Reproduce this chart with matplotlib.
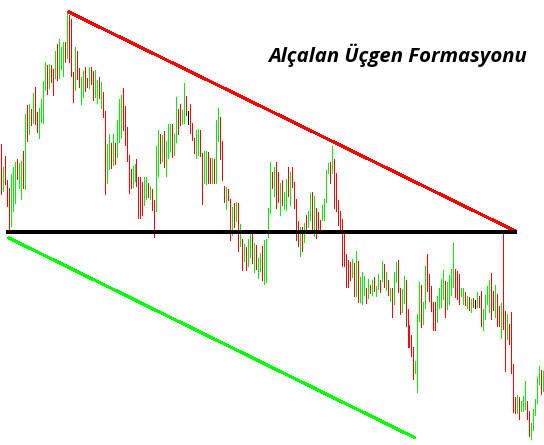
import matplotlib
matplotlib.use("Agg")
from matplotlib import pyplot as plt

# bar data (price points), one entry per bar
highs = [301, 278, 289, 265, 257, 271, 278, 283, 286, 282, 284, 294, 331, 340, 341, 336, 352, 358, 333, 337,
         346, 364, 383, 380, 381, 380, 376, 394, 401, 406, 398, 403, 403, 433, 430, 426, 373, 398, 394, 377,
         368, 374, 378, 367, 378, 378, 374, 375, 365, 368, 363, 353, 334, 301, 311, 302, 311, 302, 325, 346,
         350, 357, 339, 318, 290, 276, 279, 281, 286, 268, 268, 263, 268, 268, 262, 259, 256, 245, 299,
         315, 311, 310, 314, 304, 321, 321, 321, 311, 348, 336, 341, 335, 362, 349, 334, 341, 322, 307, 315,
         316, 315, 292, 294, 294, 293, 287, 287, 286, 325, 337, 328, 304, 259, 258, 256, 246, 238, 242,
         243, 242, 221, 206, 201, 198, 206, 213, 213, 202, 200, 187, 192, 199, 205, 206, 237, 283, 273, 278,
         283, 273, 262, 265, 253, 266, 278, 273, 278, 263, 246, 224, 218, 218, 222, 230, 234, 252, 253,
         249, 237, 233, 225, 240, 246, 275, 282, 283, 299, 286, 272, 245, 234, 226, 215, 191, 185, 183, 186,
         182, 194, 184, 168, 173, 169, 157, 166, 160, 165, 168, 159, 171, 165, 184, 181, 173, 165, 157,
         157, 173, 183, 185, 157, 156, 169, 165, 136, 120, 110, 98, 84, 131, 163, 160, 143, 179, 191, 171,
         159, 143, 143, 149, 157, 166, 175, 164, 163, 170, 176, 202, 176, 174, 171, 157, 157, 153, 149, 148,
         146, 147, 145, 153, 149, 154, 136, 150, 159, 165, 172, 154, 160, 151, 139, 142, 215, 134, 131, 121,
         133, 81, 48, 50, 48, 44, 49, 64, 44, 34, 22, 36, 46, 68, 79, 75, 74]
lows = [251, 254, 261, 239, 215, 219, 234, 242, 266, 257, 246, 257, 256, 304, 311, 320, 322, 321, 313, 307,
        323, 322, 355, 351, 357, 363, 350, 367, 365, 367, 376, 369, 383, 387, 383, 369, 343, 355, 366, 358,
        341, 348, 354, 358, 357, 361, 345, 348, 342, 347, 337, 328, 251, 262, 276, 277, 280, 281, 288, 303,
        307, 315, 300, 284, 252, 257, 258, 264, 259, 227, 227, 230, 240, 246, 248, 246, 235, 208, 234,
        269, 282, 284, 278, 269, 287, 294, 288, 290, 303, 311, 320, 321, 322, 330, 321, 312, 305, 292, 287,
        290, 289, 241, 262, 261, 262, 262, 262, 262, 262, 304, 286, 265, 243, 236, 245, 205, 210, 218,
        224, 194, 199, 175, 184, 175, 179, 188, 182, 173, 176, 167, 174, 165, 161, 163, 208, 232, 257, 249,
        237, 243, 230, 240, 236, 235, 249, 240, 258, 237, 205, 199, 189, 194, 203, 213, 218, 225, 216,
        209, 207, 212, 213, 225, 225, 243, 272, 262, 272, 237, 234, 220, 213, 179, 179, 158, 158, 165, 168,
        149, 149, 143, 143, 141, 150, 142, 147, 152, 150, 154, 149, 156, 153, 164, 158, 155, 150, 144,
        128, 141, 163, 153, 131, 133, 142, 119, 98, 98, 89, 66, 72, 53, 124, 118, 121, 137, 154, 144,
        134, 115, 115, 123, 137, 138, 146, 128, 136, 141, 150, 158, 148, 146, 141, 149, 141, 140, 137, 135,
        133, 138, 137, 138, 138, 119, 115, 126, 141, 133, 126, 135, 128, 119, 119, 107, 116, 74, 106, 101,
        72, 33, 32, 32, 26, 34, 34, 36, 26, 9, 6, 15, 30, 42, 61, 51, 54]
# g = up bar, r = down bar, k = unchanged
directions = ("rgrrrgggrg" "grgrgrgrrg" "gggrgrrgrg" "ggrgrrrgrr"
              "ggrrgrrggr" "grrggrgrgg" "grrrrrggrr" "rrggrgrrg"
              "grgrgggrgg" "rrggrkrrrg" "grrggrrgrg" "grrrgrrgr"
              "grgrgrggrg" "rggrggggrg" "rrgrggrgrr" "rrgrgrggr"
              "grrrggggrg" "rrrrrrrrrg" "rgrgggrgrg" "rggrgrgrg"
              "rggrrggrrr" "rrgggrggrr" "rrrggggrgg" "ggrrrggrgr"
              "grkgrrgggg" "rrgrrgrrgr" "rrrgrgggrr" "gggggrg")

# (bar index, price) end points of the pattern lines
resistance_x, resistance_y = [34, 258], [433, 214]
support_x, support_y = [3.5, 258], [213, 213]
channel_x, channel_y = [4, 207.5], [207, 7.5]

n = len(highs)
print(n, len(lows), len(directions))
cmap = {"g": "#00ee00", "r": "#ff0000", "k": "#000000"}
bar_colors = [cmap[c] for c in directions]

fig = plt.figure(figsize=(5.44, 4.45), dpi=100)
ax = fig.add_axes([0, 0, 1, 1])
ax.vlines(range(n), lows, highs, colors=bar_colors, linewidth=0.72, antialiased=False)

ax.plot(resistance_x, resistance_y, color="#ff0000", linewidth=1.5, antialiased=False)
ax.plot(support_x, support_y, color="black", linewidth=1.5, antialiased=False)
ax.plot(channel_x, channel_y, color="#00ff00", linewidth=1.5, antialiased=False)

ax.text(0.493, 0.876, "Alçalan Üçgen Formasyonu", transform=ax.transAxes,
        fontsize=14.7, fontweight="bold", fontstyle="italic", family="Open Sans",
        ha="left", va="center")

ax.set_xlim(-0.5, n - 0.5)
ax.set_ylim(0, 445)
ax.axis("off")
fig.savefig("out.png", dpi=100)
